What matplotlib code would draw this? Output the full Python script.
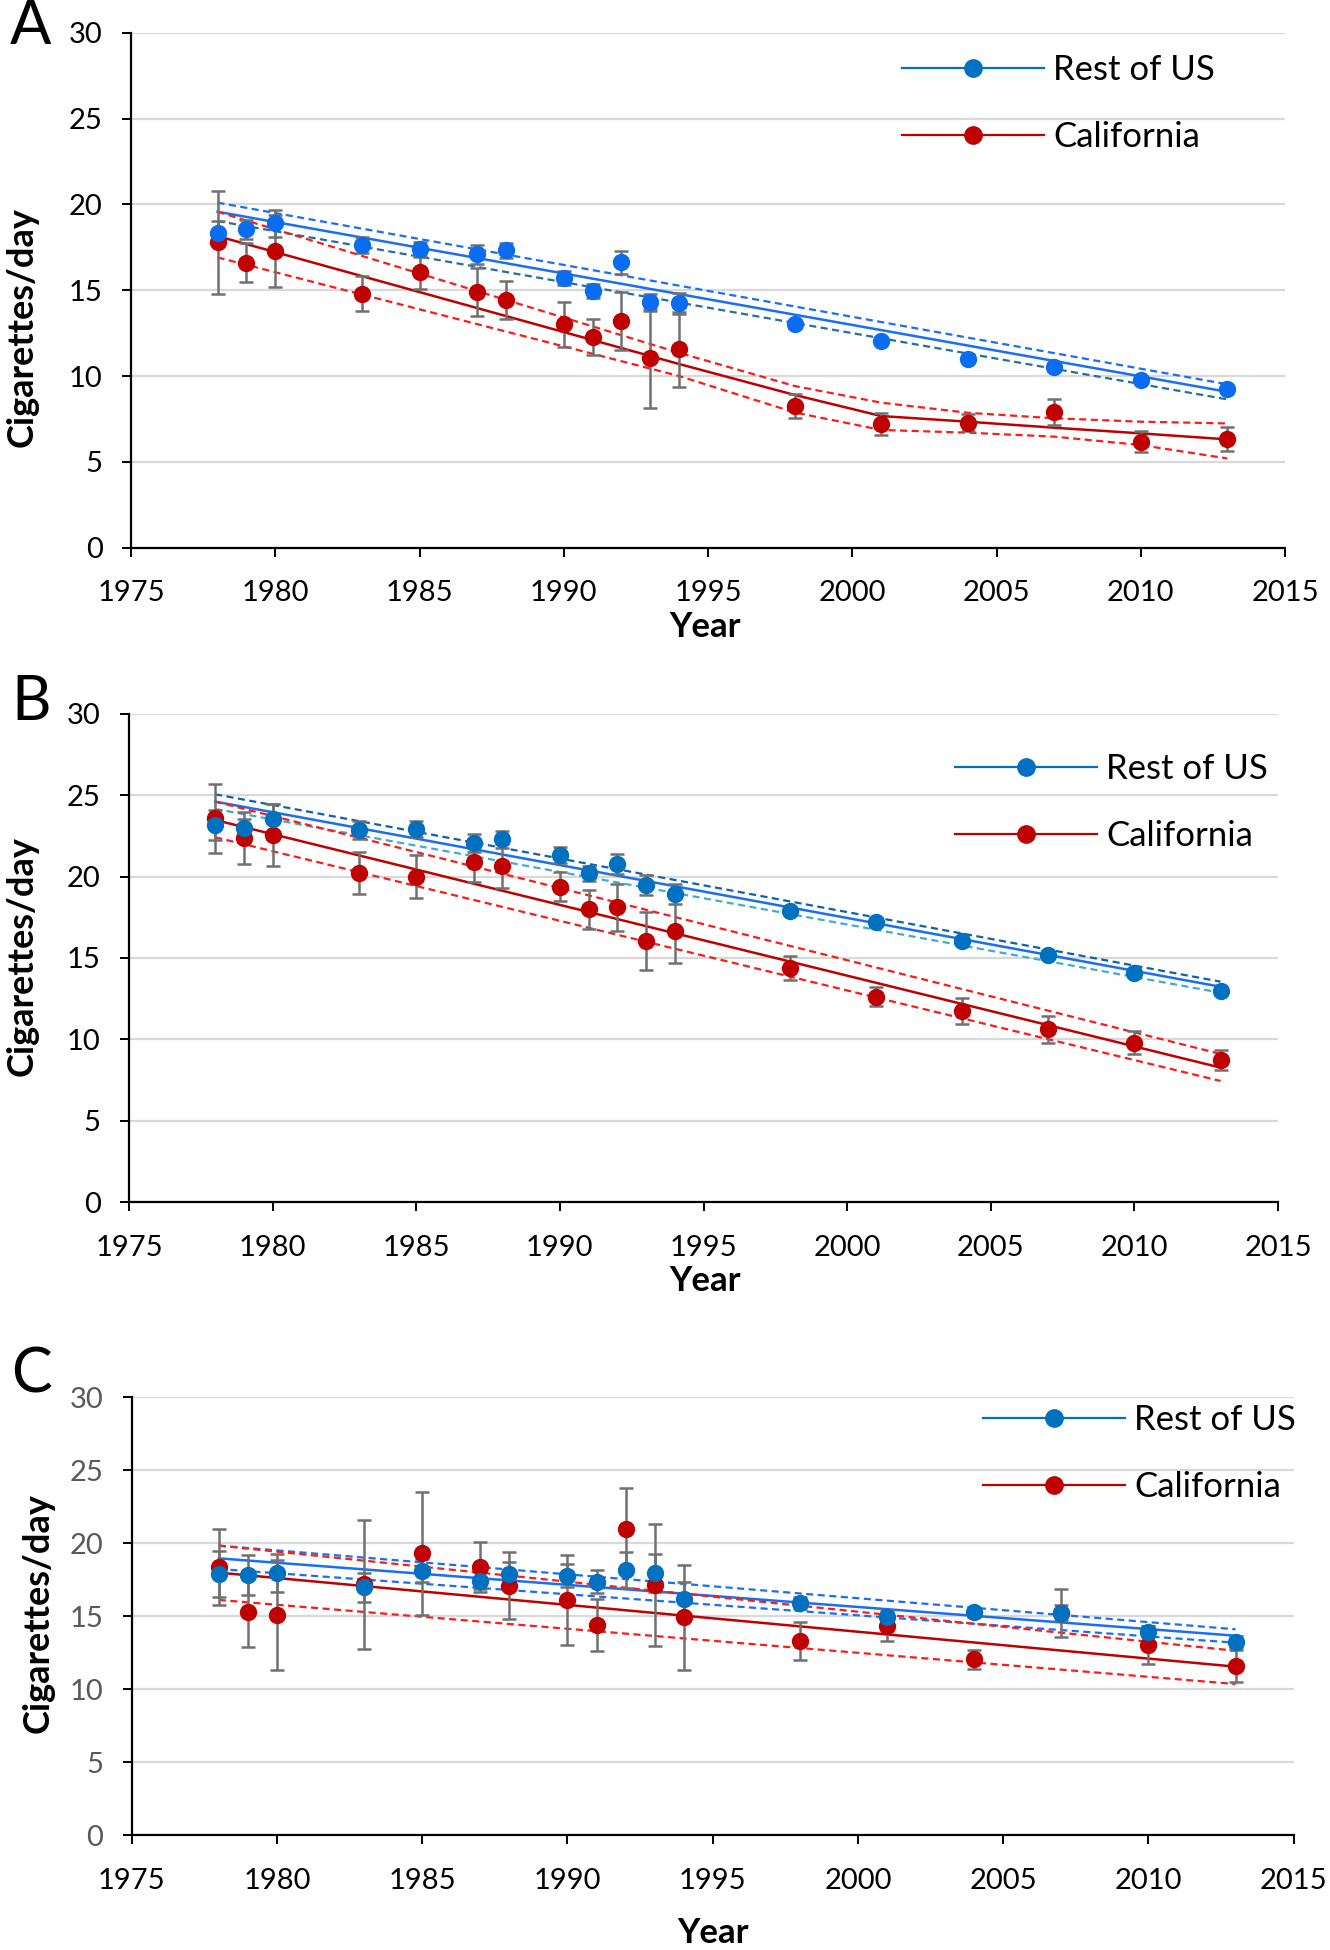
import matplotlib
matplotlib.use("Agg")
import matplotlib.pyplot as plt
from matplotlib.lines import Line2D

plt.rcParams['font.family'] = ['Lato', 'DejaVu Sans']

W, H = 1330, 1950

years = [1978, 1979, 1980, 1983, 1985, 1987, 1988, 1990, 1991, 1992,
         1993, 1994, 1998, 2001, 2004, 2007, 2010, 2013]

# panel A
us_a = [18.35, 18.56, 18.9, 17.63, 17.38, 17.1, 17.32, 15.69, 14.97, 16.62,
        14.29, 14.23, 13.01, 12.04, 10.99, 10.5, 9.77, 9.23]
us_a_err = [0.7, 0.55, 0.8, 0.45, 0.45, 0.55, 0.45, 0.4, 0.4, 0.65,
            0.5, 0.6, 0.2, 0.2, 0.2, 0.2, 0.2, 0.2]
ca_a = [17.79, 16.6, 17.28, 14.8, 16.04, 14.91, 14.43, 13.01, 12.29, 13.22,
        11.03, 11.55, 8.25, 7.2, 7.28, 7.92, 6.17, 6.31]
ca_a_err = [3.0, 1.15, 2.1, 1.0, 0.95, 1.4, 1.1, 1.3, 1.05, 1.7,
            2.9, 2.2, 0.7, 0.65, 0.5, 0.75, 0.6, 0.7]

# panel B
us_b = [23.16, 22.96, 23.53, 22.86, 22.9, 22.04, 22.28, 21.32, 20.2, 20.77,
        19.48, 18.93, 17.88, 17.22, 16.06, 15.18, 14.09, 12.97]
us_b_err = [0.9, 0.55, 0.9, 0.55, 0.5, 0.55, 0.5, 0.5, 0.45, 0.6,
            0.6, 0.6, 0.2, 0.2, 0.2, 0.2, 0.2, 0.2]
ca_b = [23.57, 22.35, 22.55, 20.2, 19.99, 20.87, 20.66, 19.38, 18.0, 18.11,
        16.04, 16.67, 14.36, 12.62, 11.74, 10.61, 9.79, 8.73]
ca_b_err = [2.1, 1.6, 1.9, 1.3, 1.3, 1.2, 1.35, 0.9, 1.2, 1.45,
            1.8, 2.0, 0.73, 0.6, 0.78, 0.85, 0.7, 0.6]

# panel C
us_c = [17.9, 17.83, 17.99, 16.99, 18.12, 17.44, 17.9, 17.78, 17.37, 18.17,
        17.95, 16.16, 15.93, 14.97, 15.27, 15.25, 13.95, 13.26]
us_c_err = [1.6, 1.4, 1.3, 1.0, 0.8, 0.6, 0.8, 0.8, 0.8, 1.2,
            1.3, 1.2, 0.4, 0.3, 0.3, 0.5, 0.4, 0.4]
ca_c = [18.36, 15.27, 15.09, 17.19, 19.31, 18.36, 17.1, 16.12, 14.4, 20.96,
        17.14, 14.93, 13.31, 14.36, 12.05, 15.2, 13.03, 11.6]
ca_c_err = [2.6, 2.4, 3.8, 4.4, 4.2, 1.7, 2.3, 3.1, 1.8, 2.8,
            4.15, 3.6, 1.3, 1.05, 0.65, 1.65, 1.3, 1.1]

# fitted trends (solid) and bands (dashed)
fit_ends = [1978, 2013]
us_fit_a = [19.57, 9.08]
us_hi_a = [20.1, 9.52]
us_lo_a = [19.03, 8.64]
ca_fit_years_a = [1978, 1994, 1998, 2001, 2004, 2007, 2010, 2013]
ca_fit_a = [18.15, 10.7, 8.9, 7.67, 7.34, 6.99, 6.66, 6.31]
ca_hi_a = [19.57, 11.35, 9.42, 8.45, 7.86, 7.54, 7.34, 7.24]
ca_lo_a = [16.91, 10.0, 7.88, 6.86, 6.7, 6.47, 5.98, 5.2]

us_fit_b = [24.6, 13.23]
us_hi_b = [25.05, 13.54]
us_lo_b = [24.15, 12.86]
ca_fit_b = [23.47, 8.26]
ca_hi_b = [24.6, 9.1]
ca_lo_b = [22.41, 7.44]

us_fit_c = [18.97, 13.67]
us_hi_c = [19.84, 14.11]
us_lo_c = [18.24, 13.19]
ca_fit_c = [17.99, 11.55]
ca_hi_c = [19.84, 12.64]
ca_lo_c = [16.12, 10.36]

RED = '#c00000'
RED_D = '#ff1a1a'
GRAY = '#707070'


def px_axes(left, right, top, bottom):
    return [left / W, 1 - bottom / H, (right - left) / W, (bottom - top) / H]


fig = plt.figure(figsize=(W / 100, H / 100), dpi=100)

panels = [
    dict(rect=px_axes(131, 1285, 32.7, 547.7), letter='A', lpos=(31, 26),
         us=us_a, use=us_a_err, ca=ca_a, cae=ca_a_err, mk_us='#0a6cf0',
         us_fit=us_fit_a, us_hi=us_hi_a, us_lo=us_lo_a,
         fit_c_years=ca_fit_years_a, ca_fit=ca_fit_a, ca_hi=ca_hi_a, ca_lo=ca_lo_a,
         c_solid='#1a6ef5', c_hi='#1a6ef5', c_lo='#23709e',
         ylab=(22, 327), xlab=(705, 627), leg=(902, 54), ytc='black'),
    dict(rect=px_axes(129, 1278, 713.7, 1202.1), letter='B', lpos=(31, 703),
         us=us_b, use=us_b_err, ca=ca_b, cae=ca_b_err, mk_us='#0070c0',
         us_fit=us_fit_b, us_hi=us_hi_b, us_lo=us_lo_b,
         fit_c_years=fit_ends, ca_fit=ca_fit_b, ca_hi=ca_hi_b, ca_lo=ca_lo_b,
         c_solid='#1a6ef5', c_hi='#0b63b0', c_lo='#45aacb',
         ylab=(22, 956), xlab=(705, 1281), leg=(955, 753), ytc='black'),
    dict(rect=px_axes(131.7, 1293.7, 1397.3, 1835.3), letter='C', lpos=(31, 1375),
         us=us_c, use=us_c_err, ca=ca_c, cae=ca_c_err, mk_us='#0070c0',
         us_fit=us_fit_c, us_hi=us_hi_c, us_lo=us_lo_c,
         fit_c_years=fit_ends, ca_fit=ca_fit_c, ca_hi=ca_hi_c, ca_lo=ca_lo_c,
         c_solid='#1a6ef5', c_hi='#1a6ef5', c_lo='#1a6ef5',
         ylab=(38, 1613), xlab=(713, 1933), leg=(983, 1404), ytc='#595959'),
]

for p in panels:
    ax = fig.add_axes(p['rect'])
    ax.set_xlim(1975, 2015)
    ax.set_ylim(0, 30)
    ax.set_xticks(range(1975, 2016, 5))
    ax.set_yticks(range(0, 31, 5))
    ax.yaxis.grid(True, color='#d9d9d9', lw=1.6)
    ax.set_axisbelow(True)
    for s in ['top', 'right']:
        ax.spines[s].set_visible(False)
    for s in ['left', 'bottom']:
        ax.spines[s].set_linewidth(1.6)
    ax.tick_params(axis='both', direction='out', length=6.5, width=1.4, labelsize=21)
    ax.tick_params(axis='x', pad=17)
    ax.tick_params(axis='y', pad=14, labelcolor=p['ytc'])

    # trend lines
    dash = (0, (3.2, 2.0))
    ax.plot(fit_ends, p['us_hi'], color=p['c_hi'], lw=1.6, ls=dash, zorder=2)
    ax.plot(fit_ends, p['us_lo'], color=p['c_lo'], lw=1.6, ls=dash, zorder=2)
    ax.plot(fit_ends, p['us_fit'], color=p['c_solid'], lw=1.8, zorder=2)
    ax.plot(p['fit_c_years'], p['ca_hi'], color=RED_D, lw=1.6, ls=dash, zorder=2)
    ax.plot(p['fit_c_years'], p['ca_lo'], color=RED_D, lw=1.6, ls=dash, zorder=2)
    ax.plot(p['fit_c_years'], p['ca_fit'], color=RED, lw=1.8, zorder=2)

    # error bars and points
    ax.errorbar(years, p['ca'], yerr=p['cae'], fmt='none', ecolor=GRAY,
                elinewidth=1.8, capsize=5, capthick=1.8, zorder=3)
    ax.errorbar(years, p['us'], yerr=p['use'], fmt='none', ecolor=GRAY,
                elinewidth=1.8, capsize=5, capthick=1.8, zorder=3)
    ax.plot(years, p['ca'], 'o', color=RED, ms=12.5, mec='none', zorder=4)
    ax.plot(years, p['us'], 'o', color=p['mk_us'], ms=12.5, mec='none', zorder=5)

    handles = [Line2D([], [], color='#0070c0', lw=1.6, marker='o', ms=13.5,
                      mfc='#0070c0', mec='none'),
               Line2D([], [], color=RED, lw=1.6, marker='o', ms=13.5,
                      mfc=RED, mec='none')]
    lx, ly = p['leg']
    ax.legend(handles, ['Rest of US', 'California'], loc='upper left',
              bbox_to_anchor=(lx / W, 1 - ly / H), bbox_transform=fig.transFigure,
              frameon=False, fontsize=25, handlelength=4.1, handletextpad=0.26,
              labelspacing=1.0, borderpad=0, borderaxespad=0)

    fig.text(p['lpos'][0] / W, 1 - p['lpos'][1] / H, p['letter'], fontsize=44,
             ha='center', va='center')
    fig.text(p['ylab'][0] / W, 1 - p['ylab'][1] / H, 'Cigarettes/day', fontsize=26,
             fontweight='bold', rotation=90, ha='center', va='center')
    fig.text(p['xlab'][0] / W, 1 - p['xlab'][1] / H, 'Year', fontsize=25,
             fontweight='bold', ha='center', va='center')

fig.savefig('out.png', dpi=100)
